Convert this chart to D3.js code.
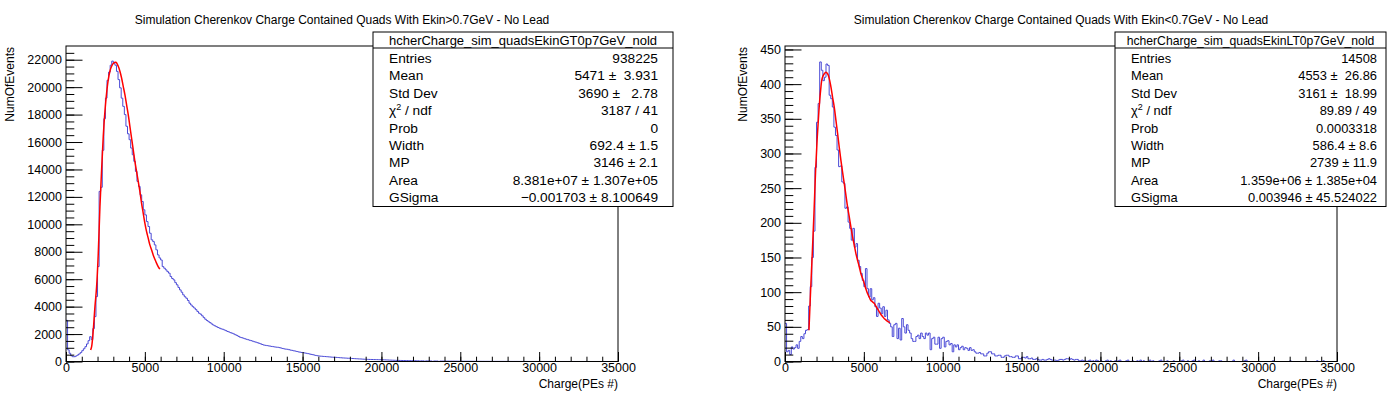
<!DOCTYPE html>
<html>
<head>
<meta charset="utf-8">
<script src="https://cdn.jsdelivr.net/npm/d3@7"></script>
<style>
body { margin: 0; background: #fff; }
svg { font-family: "Liberation Sans", Arial, Helvetica, sans-serif; }
.stats text { white-space: pre; }
</style>
</head>
<body>
<svg id="chart" width="1395" height="395"></svg>
<script>
// bins are 100 PE wide, 0 .. 35000
const binWidth = 100;
const xTicks = [0, 5000, 10000, 15000, 20000, 25000, 30000, 35000];

const gtCounts = [
  3000, 850, 600, 420, 350, 350, 400, 470, 550, 650,
  790, 930, 1080, 1280, 1520, 1810, 1600, 2400, 3270, 4730,
  6920, 12400, 12700, 15400, 17700, 19200, 20500, 21100, 21600, 21900,
  21750, 21600, 21150, 20550, 19950, 19200, 18600, 18000, 17150, 16600,
  16170, 15560, 15070, 14590, 13860, 13130, 12760, 12150, 11660, 11060,
  10690, 10200, 9840, 9350, 8870, 8740, 8500, 8140, 7770, 7550,
  7400, 6920, 6800, 6680, 6550, 6440, 6200, 6050, 5950, 5750,
  5590, 5400, 5220, 5050, 4860, 4720, 4610, 4450, 4250, 4120,
  4000, 3900, 3780, 3650, 3520, 3450, 3330, 3200, 3080, 2990,
  2900, 2830, 2740, 2660, 2600, 2540, 2480, 2430, 2380, 2350,
  2300, 2250, 2190, 2150, 2100, 2060, 2010, 1950, 1900, 1830,
  1770, 1740, 1700, 1660, 1620, 1590, 1550, 1520, 1480, 1440,
  1410, 1370, 1330, 1290, 1240, 1200, 1180, 1160, 1140, 1120,
  1100, 1080, 1060, 1045, 1035, 1010, 980, 950, 920, 900,
  890, 860, 830, 810, 780, 760, 730, 700, 680, 660,
  645, 620, 600, 575, 550, 520, 500, 470, 440, 420,
  400, 390, 380, 370, 360, 350, 340, 330, 320, 310,
  305, 300, 290, 280, 270, 260, 255, 250, 240, 235,
  230, 220, 215, 205, 200, 190, 185, 180, 170, 165,
  160, 155, 150, 148, 145, 140, 138, 135, 132, 130,
  128, 122, 118, 112, 108, 102, 98, 92, 88, 84,
  80, 78, 75, 72, 70, 68, 66, 64, 62, 61,
  60, 56, 52, 50, 30, 46, 44, 20, 42, 41,
  40, 38, 10, 35, 34, 33, 5, 30, 29, 28,
  27, 26, 25, 24, 24, 23, 22, 21, 21, 20,
  20, 19, 18, 18, 17, 16, 16, 15, 15, 14,
  14, 13, 13, 12, 12, 11, 11, 11, 10, 10,
  10, 9, 9, 9, 8, 8, 8, 8, 7, 7,
  7, 7, 6, 6, 6, 6, 6, 5, 5, 5,
  5, 5, 5, 4, 4, 4, 4, 4, 4, 4,
  4, 3, 3, 3, 3, 3, 3, 3, 3, 3,
  3, 3, 2, 2, 2, 2, 2, 2, 2, 2,
  2, 2, 2, 2, 2, 2, 2, 2, 2, 1,
  1, 1, 1, 1, 1, 1, 1, 1, 1, 1,
  1, 1, 1, 1, 1, 1, 1, 1, 1, 1
];

const ltCounts = [
  55, 14, 16, 10, 21, 18, 20, 24, 19, 29,
  36, 33, 40, 45, 46, 80, 108, 150, 188, 280,
  345, 372, 432, 420, 405, 410, 429, 427, 384, 379,
  367, 338, 326, 305, 281, 282, 259, 257, 221, 223,
  201, 192, 175, 192, 165, 170, 146, 137, 127, 117,
  108, 134, 105, 93, 105, 89, 92, 79, 65, 84,
  77, 69, 79, 65, 74, 60, 55, 50, 36, 53,
  55, 33, 48, 31, 62, 50, 41, 53, 45, 41,
  33, 29, 29, 36, 38, 33, 41, 36, 33, 41,
  38, 41, 17, 33, 35, 25, 25, 35, 19, 33,
  35, 21, 29, 30, 24, 26, 14, 24, 21, 24,
  17, 20, 22, 17, 20, 19, 16, 20, 16, 17,
  14, 12, 12, 13, 11, 11, 8, 8, 12, 14,
  14, 11, 11, 8, 8, 9, 9, 6, 6, 8,
  9, 9, 7, 7, 6, 6, 8, 8, 4, 4,
  6, 6, 5, 7, 4, 4, 5, 3, 3, 4,
  3, 2, 2, 3, 2, 2, 3, 4, 3, 2,
  2, 2, 1, 2, 3, 3, 2, 3, 4, 4,
  3, 4, 3, 2, 3, 3, 1, 1, 2, 1,
  1, 0, 1, 2, 0, 1, 0, 2, 1, 0,
  1, 0, 0, 1, 2, 0, 1, 0, 0, 1,
  0, 1, 2, 0, 0, 0, 1, 2, 0, 0,
  1, 0, 0, 1, 0, 2, 0, 1, 0, 0,
  0, 2, 0, 1, 0, 0, 0, 1, 2, 0,
  0, 0, 1, 0, 0, 0, 1, 0, 0, 0,
  0, 1, 2, 0, 0, 1, 0, 0, 1, 2,
  0, 0, 1, 0, 0, 2, 0, 0, 0, 1,
  0, 2, 0, 0, 0, 1, 1, 0, 0, 0,
  0, 0, 0, 0, 2, 0, 0, 0, 0, 0,
  0, 1, 2, 0, 0, 0, 0, 0, 0, 0,
  0, 0, 0, 0, 0, 0, 0, 0, 0, 1,
  0, 0, 0, 0, 0, 0, 0, 0, 0, 0,
  1, 0, 0, 0, 0, 0, 0, 0, 0, 0,
  0, 0, 0, 0, 0, 0, 0, 1, 0, 0,
  0, 1, 0, 0, 0, 0, 0, 0, 0, 0
];

// fitted curves: [charge, events]
const gtFit = [
  [1561, 840], [1625, 1083], [1730, 2300], [1836, 4000], [1941, 5460], [2047, 7900],
  [2152, 11300], [2258, 13980], [2363, 16410], [2469, 18240], [2574, 19570], [2680, 20550],
  [2785, 21160], [2891, 21520], [2996, 21720], [3165, 21810], [3313, 21520], [3418, 21160],
  [3524, 20670], [3629, 20060], [3735, 19450], [3840, 18720], [3946, 17990], [4051, 17140],
  [4157, 16290], [4262, 15440], [4368, 14590], [4473, 13860], [4579, 13130], [4684, 12400],
  [4790, 11550], [4895, 10820], [5001, 10090], [5106, 9480], [5212, 8990], [5317, 8500],
  [5423, 8140], [5528, 7770], [5634, 7460], [5739, 7170], [5845, 6920], [5950, 6730]
];

const ltFit = [
  [1520, 45], [1625, 103], [1730, 156], [1836, 213], [1941, 276], [2047, 324],
  [2152, 362], [2258, 391], [2363, 409], [2490, 415], [2595, 417], [2700, 415],
  [2806, 408], [2912, 396], [3017, 381], [3123, 367], [3228, 348], [3334, 329],
  [3439, 309], [3545, 290], [3650, 273], [3756, 257], [3861, 240], [3967, 223],
  [4072, 209], [4178, 194], [4283, 180], [4389, 168], [4494, 156], [4600, 146],
  [4705, 137], [4811, 127], [4916, 120], [5022, 113], [5127, 105], [5233, 98],
  [5338, 93], [5444, 88], [5549, 86], [5655, 84], [5760, 80], [5866, 76],
  [5971, 72], [6077, 68], [6182, 65], [6288, 62], [6393, 60], [6499, 58], [6660, 56]
];

const gtYTicks = d3.range(0, 22001, 2000);
const ltYTicks = d3.range(0, 451, 50);

const statLabels = ["Entries", "Mean", "Std Dev", "chi2", "Prob", "Width", "MP", "Area", "GSigma"];
const gtStatValues = ["938225", "5471 \u00b1  3.931", "3690 \u00b1   2.78", "3187 / 41", "0",
  "692.4 \u00b1 1.5", "3146 \u00b1 2.1", "8.381e+07 \u00b1 1.307e+05", "\u22120.001703 \u00b1 8.100649"];
const ltStatValues = ["14508", "4553 \u00b1  26.86", "3161 \u00b1  18.99", "89.89 / 49", "0.0003318",
  "586.4 \u00b1 8.6", "2739 \u00b1 11.9", "1.359e+06 \u00b1 1.385e+04", "0.003946 \u00b1 45.524022"];

class HistPanel {
    constructor(svg, cfg) {
        this.svg = svg;
        this.cfg = cfg;
    }

    draw() {
        const c = this.cfg;
        const g = this.svg.append("g");

        const x = d3.scaleLinear().domain([0, 35000]).range([c.x0, c.x1]);
        const y = d3.scaleLinear().domain([0, c.yMax]).range([c.y1, c.y0]);

        // title
        g.append("text")
            .attr("x", (c.x0 + c.x1) / 2)
            .attr("y", 24)
            .attr("text-anchor", "middle")
            .style("font-size", "12px")
            .text(c.title);

        const clipId = "clip-" + c.id;
        g.append("clipPath").attr("id", clipId)
            .append("rect")
            .attr("x", c.x0).attr("y", c.y0)
            .attr("width", c.x1 - c.x0).attr("height", c.y1 - c.y0);

        // histogram as steps
        const pts = c.counts.map((v, i) => [i * binWidth, v]);
        pts.push([c.counts.length * binWidth, c.counts[c.counts.length - 1]]);
        const step = d3.line()
            .x(d => x(d[0]))
            .y(d => y(d[1]))
            .curve(d3.curveStepAfter);

        g.append("path")
            .attr("clip-path", `url(#${clipId})`)
            .attr("d", step(pts))
            .attr("fill", "none")
            .attr("stroke", "#4a4ad6")
            .attr("stroke-width", 1);

        const fitLine = d3.line()
            .x(d => x(d[0]))
            .y(d => y(d[1]))
            .curve(d3.curveCatmullRom);

        g.append("path")
            .attr("d", fitLine(c.fit))
            .attr("fill", "none")
            .attr("stroke", "#ff0000")
            .attr("stroke-width", 1.5);

        // axes, ROOT style: ticks inside the frame
        const fmt = d3.format("d");
        const styleAxis = sel => {
            sel.select(".domain").remove();
            sel.selectAll("line").attr("stroke", "#000");
            sel.selectAll("text").style("font-size", "12.5px").attr("fill", "#000");
        };

        g.append("g")
            .attr("transform", `translate(0,${c.y1})`)
            .call(d3.axisBottom(x).tickValues(d3.range(0, 35001, 1000)).tickSize(-4.8).tickFormat(""))
            .call(styleAxis);
        g.append("g")
            .attr("transform", `translate(0,${c.y1})`)
            .call(d3.axisBottom(x).tickValues(xTicks).tickSize(-9.5).tickPadding(2).tickFormat(fmt))
            .call(styleAxis);

        g.append("g")
            .attr("transform", `translate(${c.x0},0)`)
            .call(d3.axisLeft(y).tickValues(d3.range(0, c.yMax, c.yMinor)).tickSize(-8.3).tickFormat(""))
            .call(styleAxis);
        g.append("g")
            .attr("transform", `translate(${c.x0},0)`)
            .call(d3.axisLeft(y).tickValues(c.yTicks).tickSize(-16.5).tickPadding(4).tickFormat(fmt))
            .call(styleAxis);

        g.append("rect")
            .attr("x", c.x0).attr("y", c.y0)
            .attr("width", c.x1 - c.x0).attr("height", c.y1 - c.y0)
            .attr("fill", "none")
            .attr("stroke", "#000")
            .attr("stroke-width", 1);

        g.append("text")
            .attr("x", c.x1)
            .attr("y", 388)
            .attr("text-anchor", "end")
            .style("font-size", "12px")
            .text("Charge(PEs #)");

        g.append("text")
            .attr("transform", `translate(${c.yTitleX},${c.y0 + 1}) rotate(-90)`)
            .attr("text-anchor", "end")
            .style("font-size", "12px")
            .text("NumOfEvents");

        this.drawStats(g);
    }

    drawStats(g) {
        const c = this.cfg;
        const b = c.box;
        const s = g.append("g").attr("class", "stats");

        s.append("rect")
            .attr("x", b.x0).attr("y", 32)
            .attr("width", b.x1 - b.x0).attr("height", 174.5)
            .attr("fill", "#fff")
            .attr("stroke", "#000");
        s.append("line")
            .attr("x1", b.x0).attr("x2", b.x1)
            .attr("y1", 48).attr("y2", 48)
            .attr("stroke", "#000");

        s.append("text")
            .attr("x", (b.x0 + b.x1) / 2)
            .attr("y", 44.5)
            .attr("text-anchor", "middle")
            .style("font-size", b.titleSize + "px")
            .text(c.histName);

        statLabels.forEach((lab, i) => {
            const yy = 63 + i * 17.4;
            const t = s.append("text")
                .attr("x", b.x0 + 16)
                .attr("y", yy)
                .style("font-size", b.rowSize + "px");
            if (lab === "chi2") {
                t.append("tspan").text("\u03c7");
                t.append("tspan").attr("dy", -5).style("font-size", "9px").text("2");
                t.append("tspan").attr("dy", 5).text(" / ndf");
            } else {
                t.text(lab);
            }
            s.append("text")
                .attr("x", b.x1 - b.padRight)
                .attr("y", yy)
                .attr("text-anchor", "end")
                .style("font-size", b.rowSize + "px")
                .text(c.statValues[i]);
        });
    }
}

const svg = d3.select("#chart");

new HistPanel(svg, {
    id: "gt",
    title: "Simulation Cherenkov Charge Contained Quads With Ekin>0.7GeV - No Lead",
    histName: "hcherCharge_sim_quadsEkinGT0p7GeV_nold",
    x0: 66, x1: 618, y0: 46, y1: 361.5,
    yMax: 23000, yTicks: gtYTicks, yMinor: 500,
    yTitleX: 14,
    counts: gtCounts, fit: gtFit,
    box: { x0: 373, x1: 673, titleSize: 13, rowSize: 13.7, padRight: 15 },
    statValues: gtStatValues
}).draw();

new HistPanel(svg, {
    id: "lt",
    title: "Simulation Cherenkov Charge Contained Quads With Ekin<0.7GeV - No Lead",
    histName: "hcherCharge_sim_quadsEkinLT0p7GeV_nold",
    x0: 785, x1: 1337, y0: 46, y1: 361.5,
    yMax: 455, yTicks: ltYTicks, yMinor: 10,
    yTitleX: 747,
    counts: ltCounts, fit: ltFit,
    box: { x0: 1115, x1: 1386, titleSize: 12.2, rowSize: 12.9, padRight: 9 },
    statValues: ltStatValues
}).draw();
</script>
</body>
</html>
